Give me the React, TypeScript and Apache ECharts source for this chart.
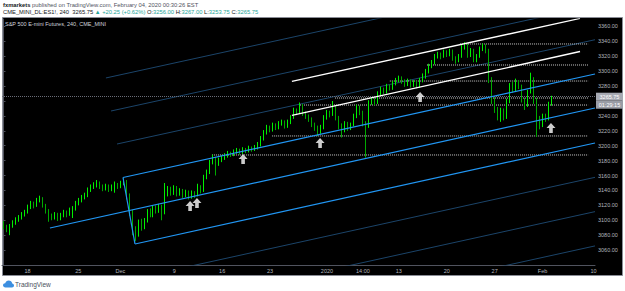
import React, { useEffect, useRef } from "react";
import * as echarts from "echarts";

// ---- data ----
// candles: [open, close, low, high], 4h bars (grouped)
const candles: number[][] = [
  [3096, 3092, 3088, 3099], [3092, 3089, 3084, 3094], [3089, 3093, 3080, 3095], [3093, 3097, 3090, 3100],
  [3097, 3101, 3094, 3104], [3101, 3104, 3098, 3107], [3104, 3108, 3101, 3111], [3108, 3111, 3105, 3114],
  [3111, 3118, 3109, 3121], [3118, 3123, 3115, 3126], [3123, 3120, 3116, 3125], [3120, 3127, 3118, 3130],
  [3127, 3130, 3124, 3133], [3130, 3120, 3117, 3131], [3120, 3113, 3109, 3122], [3113, 3106, 3098, 3115],
  [3106, 3104, 3100, 3109], [3104, 3108, 3101, 3111], [3108, 3103, 3099, 3110], [3103, 3107, 3100, 3110],
  [3107, 3111, 3104, 3114], [3111, 3108, 3104, 3113], [3108, 3114, 3106, 3117], [3114, 3116, 3103, 3119],
  [3116, 3123, 3113, 3126], [3123, 3127, 3120, 3130], [3127, 3131, 3124, 3134], [3131, 3134, 3128, 3137],
  [3134, 3141, 3131, 3144], [3141, 3145, 3138, 3148], [3145, 3147, 3142, 3151], [3147, 3150, 3144, 3154],
  [3150, 3146, 3142, 3152], [3146, 3143, 3139, 3148], [3143, 3146, 3140, 3149], [3146, 3142, 3138, 3148],
  [3142, 3145, 3139, 3148], [3145, 3147, 3137, 3152], [3147, 3146, 3142, 3150], [3146, 3150, 3143, 3153],
  [3150, 3153, 3147, 3156], [3153, 3134, 3128, 3154], [3134, 3112, 3106, 3136], [3112, 3088, 3080, 3114],
  [3088, 3082, 3072, 3092], [3082, 3098, 3078, 3101], [3098, 3092, 3086, 3102], [3092, 3100, 3088, 3103],
  [3100, 3112, 3097, 3115], [3112, 3108, 3104, 3116], [3108, 3117, 3104, 3120], [3117, 3113, 3109, 3120],
  [3113, 3119, 3110, 3122], [3119, 3110, 3100, 3121], [3110, 3135, 3108, 3150], [3135, 3142, 3132, 3146],
  [3142, 3137, 3133, 3145], [3137, 3144, 3134, 3147], [3144, 3136, 3132, 3146], [3136, 3140, 3133, 3143],
  [3140, 3134, 3130, 3142], [3134, 3138, 3131, 3141], [3138, 3132, 3128, 3140], [3132, 3137, 3129, 3140],
  [3137, 3134, 3130, 3139], [3134, 3145, 3132, 3149], [3145, 3140, 3136, 3147], [3140, 3158, 3138, 3161],
  [3158, 3165, 3155, 3168], [3165, 3178, 3162, 3181], [3178, 3183, 3175, 3188], [3183, 3176, 3160, 3185],
  [3176, 3181, 3173, 3184], [3181, 3184, 3178, 3187], [3184, 3187, 3181, 3190], [3187, 3190, 3184, 3193],
  [3190, 3188, 3185, 3192], [3188, 3192, 3186, 3195], [3192, 3194, 3189, 3197], [3194, 3191, 3188, 3196],
  [3191, 3195, 3189, 3198], [3195, 3193, 3190, 3197], [3193, 3197, 3191, 3200], [3197, 3195, 3192, 3199],
  [3195, 3198, 3193, 3201], [3198, 3202, 3195, 3205], [3202, 3210, 3199, 3213], [3210, 3218, 3207, 3221],
  [3218, 3225, 3215, 3228], [3225, 3222, 3218, 3227], [3222, 3228, 3219, 3231], [3228, 3225, 3221, 3230],
  [3225, 3230, 3222, 3233], [3230, 3232, 3227, 3235], [3232, 3227, 3223, 3234], [3227, 3232, 3224, 3235],
  [3232, 3238, 3229, 3241], [3238, 3248, 3236, 3251], [3248, 3245, 3241, 3250], [3245, 3255, 3243, 3258],
  [3255, 3244, 3240, 3256], [3244, 3240, 3236, 3246], [3240, 3236, 3232, 3242], [3236, 3229, 3225, 3238],
  [3229, 3225, 3220, 3231], [3225, 3220, 3213, 3227], [3220, 3225, 3216, 3228], [3225, 3238, 3222, 3241],
  [3238, 3245, 3235, 3248], [3245, 3242, 3238, 3247], [3242, 3252, 3240, 3260], [3252, 3238, 3234, 3254],
  [3238, 3228, 3222, 3240], [3228, 3222, 3211, 3230], [3222, 3230, 3218, 3233], [3230, 3224, 3220, 3232],
  [3224, 3228, 3221, 3231], [3228, 3240, 3226, 3243], [3240, 3252, 3237, 3255], [3252, 3245, 3241, 3254],
  [3245, 3230, 3226, 3247], [3230, 3226, 3184, 3233], [3226, 3258, 3224, 3261], [3258, 3262, 3255, 3265],
  [3262, 3258, 3254, 3264], [3258, 3270, 3256, 3273], [3270, 3276, 3267, 3279], [3276, 3273, 3269, 3278],
  [3273, 3280, 3270, 3283], [3280, 3278, 3274, 3282], [3278, 3284, 3275, 3287], [3284, 3288, 3281, 3291],
  [3288, 3291, 3285, 3294], [3291, 3286, 3283, 3293], [3286, 3282, 3279, 3289], [3282, 3287, 3280, 3290],
  [3287, 3281, 3278, 3289], [3281, 3285, 3279, 3288], [3285, 3280, 3277, 3287], [3280, 3288, 3278, 3291],
  [3288, 3293, 3285, 3297], [3293, 3300, 3290, 3303], [3300, 3307, 3297, 3310], [3307, 3312, 3304, 3315],
  [3312, 3320, 3309, 3323], [3320, 3323, 3317, 3326], [3323, 3320, 3316, 3325], [3320, 3326, 3318, 3329],
  [3326, 3323, 3319, 3328], [3323, 3327, 3320, 3330], [3327, 3318, 3314, 3329], [3318, 3314, 3310, 3320],
  [3314, 3320, 3312, 3323], [3320, 3332, 3318, 3335], [3332, 3336, 3329, 3339], [3336, 3322, 3318, 3337],
  [3322, 3328, 3319, 3331], [3328, 3316, 3312, 3330], [3316, 3320, 3312, 3323], [3320, 3330, 3318, 3333],
  [3330, 3334, 3327, 3337], [3334, 3328, 3324, 3336], [3328, 3290, 3284, 3330], [3290, 3262, 3256, 3292],
  [3262, 3250, 3244, 3265], [3250, 3240, 3234, 3252], [3240, 3248, 3232, 3251], [3248, 3238, 3234, 3250],
  [3238, 3260, 3236, 3263], [3260, 3280, 3257, 3284], [3280, 3275, 3271, 3286], [3275, 3285, 3272, 3290],
  [3285, 3280, 3276, 3288], [3280, 3262, 3258, 3282], [3262, 3255, 3248, 3264], [3255, 3272, 3252, 3275],
  [3272, 3290, 3270, 3298], [3290, 3262, 3256, 3292], [3262, 3232, 3212, 3264], [3232, 3228, 3222, 3240],
  [3228, 3240, 3225, 3243], [3240, 3236, 3232, 3243], [3236, 3256, 3234, 3259], [3256, 3265.75, 3253.75, 3267],
];

const slotCount = 198; // bar slots incl. right-side empty space
const tickIndex = [8, 25, 39, 57, 73, 89, 108, 120, 132, 148, 164, 180, 197];
const tickLabels = ["18", "25", "Dec", "9", "16", "23", "2020", "14:00", "13", "20", "27", "Feb", "10"];

const lastPrice = 3265.75;
const countdown = "01:29:15";

// drawings in (bar index, price)
const pitchHandle = [[39.9, 3157.4], [43.9, 3068.2]];
const channelUpper = [[39.9, 3157.4], [197.5, 3296.2]];
const channelMiddle = [[15.5, 3089.6], [197.5, 3250.6]];
const channelLower = [[43.9, 3068.2], [197.5, 3203.7]];
const outerLines = [
  [[34.2, 3290.9], [197.5, 3434.3]],
  [[35.9, 3246.6], [197.5, 3388.3]],
  [[37.9, 3202.3], [197.5, 3342.2]],
  [[40, 3018.7], [197.5, 3157.6]],
  [[40, 2972.7], [197.5, 3111.6]],
  [[100, 2979.6], [197.5, 3065.6]],
];
const whiteLines = [
  [[96.3, 3286.2], [192.5, 3370.7]],
  [[96.3, 3240.6], [192.5, 3326.4]],
];
const levelPrices = [3336.5, 3308.3, 3286.8, 3264.0, 3254.6, 3213.1, 3187.6];
const levelStarts = [152.4, 141.4, 129.0, 110.7, 99.0, 89.7, 69.6];
const levelEnd = 195.2;
const arrowPoints = [
  [62.3, 3119.1], [64.6, 3123.2], [80.0, 3182.2], [105.7, 3203.7], [139.1, 3265.4], [182.8, 3223.8],
];

const cloudPath =
  "M2.5 7 C1 7 0 6 0 4.8 C0 3.6 1 2.7 2.2 2.8 C2.6 1.2 4 0 5.7 0 C7.5 0 9 1.3 9.2 3 C10.3 3.1 11 4 11 5 C11 6.1 10.2 7 9 7 Z";
echarts.graphic.registerShape("tvcloud", echarts.graphic.extendPath(cloudPath, {}));

const FONT = "Liberation Sans, Arial, sans-serif";

function seg(pts: number[][], color: string, width: number, type: string = "solid", z = 3) {
  return {
    type: "line",
    xAxisIndex: 1,
    yAxisIndex: 0,
    data: pts,
    symbol: "none",
    showSymbol: false,
    silent: true,
    clip: true,
    z,
    lineStyle: { color, width, type },
  };
}

function buildOption() {
  const categories: string[] = Array.from({ length: slotCount }, () => "");
  tickIndex.forEach((idx, k) => {
    categories[idx] = tickLabels[k];
  });

  const series: any[] = [];
  outerLines.forEach((l) => series.push(seg(l, "#1b4469", 1, "solid", 2)));
  levelPrices.forEach((p, k) =>
    series.push(seg([[levelStarts[k], p], [levelEnd, p]], "#c9c9c9", 1, "dotted", 2))
  );
  series.push({
    type: "candlestick",
    xAxisIndex: 0,
    yAxisIndex: 0,
    data: candles,
    barWidth: 1.3,
    z: 4,
    itemStyle: {
      color: "#00f000",
      color0: "#00a800",
      borderColor: "#00f000",
      borderColor0: "#00a800",
      borderWidth: 1,
    },
    markLine: {
      silent: true,
      symbol: "none",
      animation: false,
      lineStyle: { color: "#6a6d78", type: "dotted", width: 1 },
      data: [{ yAxis: lastPrice }],
      label: {
        show: true,
        position: "end",
        distance: 1,
        formatter: (p: any) => `{e| }\n{a|${Number(p.value).toFixed(2)}}\n{b|${countdown}}`,
        rich: {
          e: { fontSize: 5, lineHeight: 8 },
          a: {
            fontSize: 5.5, lineHeight: 8, height: 8, width: 25, align: "center",
            color: "#ffffff", backgroundColor: "#a6a9b2", padding: [0, 1], fontFamily: FONT,
          },
          b: {
            fontSize: 5.5, lineHeight: 8, height: 8, width: 25, align: "center",
            color: "#ffffff", backgroundColor: "#9a9da6", padding: [0, 1], fontFamily: FONT,
          },
        },
      },
    },
  });
  series.push(seg(pitchHandle, "#2196f3", 1.2, "solid", 5));
  series.push(seg(channelUpper, "#2196f3", 1.2, "solid", 5));
  series.push(seg(channelMiddle, "#2196f3", 1.2, "solid", 5));
  series.push(seg(channelLower, "#2196f3", 1.2, "solid", 5));
  whiteLines.forEach((l) => series.push(seg(l, "#ffffff", 1.3, "solid", 5)));
  series.push({
    type: "scatter",
    xAxisIndex: 1,
    yAxisIndex: 0,
    data: arrowPoints,
    symbol: "path://M5 0 L10 5 L7 5 L7 10 L3 10 L3 5 L0 5 Z",
    symbolSize: [9, 10],
    silent: true,
    z: 6,
    itemStyle: { color: "#ffffff" },
  });

  return {
    animation: false,
    backgroundColor: "#ffffff",
    textStyle: { fontFamily: FONT },
    grid: { left: 2, right: 30, top: 19, bottom: 26 },
    xAxis: [
      {
        type: "category",
        data: categories,
        boundaryGap: true,
        axisLine: { show: true, lineStyle: { color: "#50535e" } },
        axisTick: { show: false },
        splitLine: { show: false },
        axisLabel: { interval: 0, color: "#b2b5be", fontSize: 5.5, margin: 3, fontFamily: FONT },
      },
      { type: "value", min: -0.5, max: slotCount - 0.5, show: false, splitLine: { show: false } },
    ],
    yAxis: {
      type: "value",
      position: "right",
      min: 3040,
      max: 3370,
      interval: 20,
      splitLine: { show: false },
      axisLine: { show: true, lineStyle: { color: "#50535e" } },
      axisTick: { show: true, length: 2, lineStyle: { color: "#50535e" } },
      axisLabel: {
        color: "#b2b5be",
        fontSize: 5.5,
        margin: 3,
        fontFamily: FONT,
        showMinLabel: false,
        showMaxLabel: false,
        // the label under the last-price box is covered in the reference
        formatter: (v: number) =>
          v % 20 === 0 && Math.abs(v - lastPrice) > 10 ? v.toFixed(2) : "",
      },
    },
    graphic: [
      {
        type: "rect",
        z: -10,
        silent: true,
        shape: { x: 2.5, y: 17.5, width: 620, height: 258 },
        style: { fill: "#000000", stroke: "#8a8d96", lineWidth: 1 },
      },
      {
        type: "text",
        x: 5,
        y: 24,
        z: 10,
        silent: true,
        style: {
          text: "S&P 500 E-mini Futures, 240, CME_MINI",
          fill: "#d1d4dc",
          fontSize: 5.5,
          fontFamily: FONT,
          verticalAlign: "middle",
        },
      },
      {
        type: "text",
        x: 3,
        y: 4.5,
        silent: true,
        style: {
          text: "{b|fxmarkets} published on TradingView.com, February 04, 2020 00:30:26 EST",
          fill: "#50535e",
          fontSize: 5.8,
          fontFamily: FONT,
          verticalAlign: "middle",
          rich: { b: { fontWeight: "bold", fontSize: 5.8, fill: "#131722", fontFamily: FONT } },
        },
      },
      {
        type: "text",
        x: 3,
        y: 12,
        silent: true,
        style: {
          text:
            "CME_MINI_DL:ES1!, 240  3265.75 {g|▲ +20.25 (+0.62%)} O:{g|3256.00} H:{g|3267.00} L:{g|3253.75} C:{g|3265.75}",
          fill: "#131722",
          fontSize: 5.8,
          fontFamily: FONT,
          verticalAlign: "middle",
          rich: { g: { fill: "#26a69a", fontSize: 5.8, fontFamily: FONT } },
        },
      },
      {
        type: "tvcloud",
        x: 3,
        y: 280.5,
        silent: true,
        style: { fill: "#3d8fe0" },
      },
      {
        type: "text",
        x: 15,
        y: 284,
        silent: true,
        style: {
          text: "TradingView",
          fill: "#4a4e59",
          fontSize: 6.5,
          fontFamily: FONT,
          verticalAlign: "middle",
        },
      },
    ],
    series,
  };
}

export default function App() {
  const ref = useRef<HTMLDivElement | null>(null);
  useEffect(() => {
    if (!ref.current) return;
    const chart = echarts.init(ref.current, null, { renderer: "svg" });
    chart.setOption(buildOption() as any);
    return () => chart.dispose();
  }, []);
  return (
    <div
      ref={ref}
      style={{ position: "fixed", left: 0, top: 0, width: 625, height: 291 }}
    />
  );
}
